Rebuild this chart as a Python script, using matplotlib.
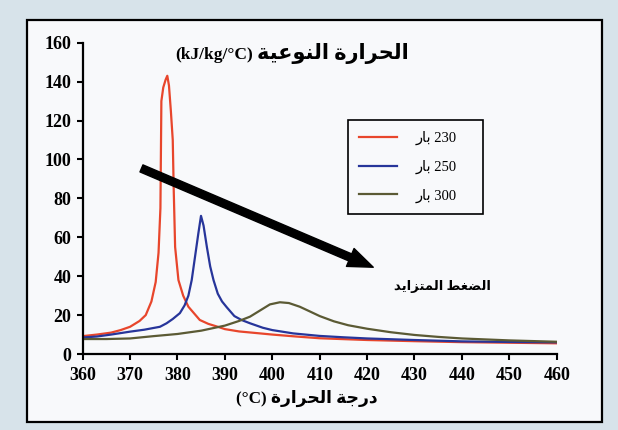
import unicodedata
import matplotlib
matplotlib.use('Agg')
import matplotlib.pyplot as plt
from matplotlib.lines import Line2D
from matplotlib.patches import Rectangle

# cp readings (kJ/kg/C) against temperature (C) for three pressures
t_230 = [360, 363, 366, 368, 370, 372, 373.3, 374.5, 375.4, 376, 376.4, 376.6,
         377, 377.5, 377.85, 378.2, 378.6, 379, 379.2, 379.5, 380.2, 381.2,
         382.3, 384.7, 386.5, 388.5, 390, 393, 397.4, 400, 405, 410, 420, 430,
         440, 450, 460]
cp_230 = [9.2, 10, 11, 12.3, 14, 17, 20, 27, 37, 52, 75, 130,
          137, 141, 143, 138, 125, 110, 85, 55, 38, 30,
          24.3, 17.5, 15.5, 14, 12.8, 11.6, 10.6, 10, 9, 8.1, 7.2, 6.6,
          6.1, 5.8, 5.5]

t_250 = [360, 363, 366, 370, 373, 376.3, 377.7, 379, 380.5, 381.5, 382.3, 383,
         383.7, 384.4, 384.96, 385.5, 386.2, 386.9, 387.6, 388.5, 389.4, 390.4,
         392, 393.5, 395.3, 398, 400, 404.4, 410, 415, 420, 430, 440, 450, 460]
cp_250 = [8.5, 9, 10, 11.5, 12.5, 14, 15.8, 18, 21, 25, 30, 38,
          50, 62, 71, 66, 55, 45, 38, 31, 27, 24,
          19.5, 17.5, 15.8, 13.5, 12.3, 10.6, 9.3, 8.6, 8, 7.2, 6.5, 6.2, 6]

t_300 = [360, 365, 370, 375, 380, 385, 390, 393, 395.3, 397.5, 399.5, 401.6,
         403.5, 405.8, 408, 410, 413, 416, 420, 425, 430, 435, 440, 450, 460]
cp_300 = [7.7, 7.7, 8, 9.2, 10.3, 12, 14.6, 17, 19.2, 22.5, 25.5, 26.6,
          26.2, 24.3, 21.8, 19.5, 16.8, 14.8, 13, 11.2, 9.8, 8.8, 8, 7, 6.3]

pressures = ['230', '250', '300']
colors = ['#e8462c', '#27359a', '#5b5a34']

xticks = list(range(360, 461, 10))
yticks = list(range(0, 161, 20))

RIGHT_ONLY = set('اأإآدذرزوؤة')


def is_ar(c):
    return '\u0621' <= c <= '\u064a'


def ar(text):
    # contextual forms + right-to-left order, for Arabic-only strings
    out = []
    for i, c in enumerate(text):
        if not is_ar(c):
            out.append(c)
            continue
        prev = text[i - 1] if i > 0 else ''
        nxt = text[i + 1] if i + 1 < len(text) else ''
        jp = is_ar(prev) and prev not in RIGHT_ONLY
        jn = is_ar(nxt) and c not in RIGHT_ONLY
        form = {(True, True): 'MEDIAL', (True, False): 'FINAL',
                (False, True): 'INITIAL', (False, False): 'ISOLATED'}[(jp, jn)]
        try:
            out.append(unicodedata.lookup(unicodedata.name(c) + ' ' + form + ' FORM'))
        except KeyError:
            out.append(c)
    return ''.join(reversed(out))


plt.rcParams['font.family'] = ['Liberation Serif', 'DejaVu Sans']

fig = plt.figure(figsize=(6.18, 4.30), dpi=100, facecolor='#d7e3ea')
fig.patches.append(Rectangle((0.0437, 0.0186), 0.930, 0.935, transform=fig.transFigure,
                             facecolor='#f8f9fb', edgecolor='black', linewidth=1.6,
                             zorder=-10))

ax = fig.add_axes([0.1338, 0.1767, 0.767, 0.7240])
ax.set_facecolor('none')
ax.spines['top'].set_visible(False)
ax.spines['right'].set_visible(False)
ax.spines['left'].set_linewidth(1.6)
ax.spines['bottom'].set_linewidth(1.6)

for t, cp, c in zip([t_230, t_250, t_300], [cp_230, cp_250, cp_300], colors):
    ax.plot(t, cp, color=c, lw=1.6)

ax.set_xlim(360, 460)
ax.set_ylim(0, 160)
ax.set_xticks(xticks)
ax.set_yticks(yticks)
ax.tick_params(direction='out', length=4, width=1.5, labelsize=13, pad=4)
ax.tick_params(axis='x', pad=5)
for lab in ax.get_xticklabels() + ax.get_yticklabels():
    lab.set_fontweight('bold')

ax.annotate('', xy=(421.3, 44.6), xytext=(372.4, 95.4),
            arrowprops=dict(width=5.5, headwidth=14, headlength=18, color='black', shrink=0))

# title: latin part on the left, arabic on the right
ax.text(395.9, 151.6, '(kJ/kg/°C)', ha='right', va='baseline', fontsize=12.5, fontweight='bold')
ax.text(396.8, 151.6, ar('الحرارة النوعية'), ha='left', va='baseline',
        fontsize=15, fontweight='bold')
ax.text(436, 34.6, ar('الضغط المتزايد'), ha='center', va='center',
        fontsize=9.5, fontweight='bold')
fig.text(0.497, 0.0744, '(°C) ' + ar('درجة الحرارة'), ha='center', va='center',
         fontsize=12.3, fontweight='bold')

handles = [Line2D([], [], color=c, lw=1.6) for c in colors]
labels = [ar('بار') + ' ' + p for p in pressures]
ax.legend(handles, labels, loc='upper left', bbox_to_anchor=(0.56, 0.752, 0.285, 0.0),
          mode='expand', fancybox=False, edgecolor='black', framealpha=1,
          facecolor='#f8f9fb', fontsize=10.5, handlelength=2.6, handletextpad=1.3,
          labelspacing=1.0, borderpad=0.75, borderaxespad=0)
ax.get_legend().get_frame().set_linewidth(1.2)

plt.savefig('out.png', dpi=100, facecolor=fig.get_facecolor())
